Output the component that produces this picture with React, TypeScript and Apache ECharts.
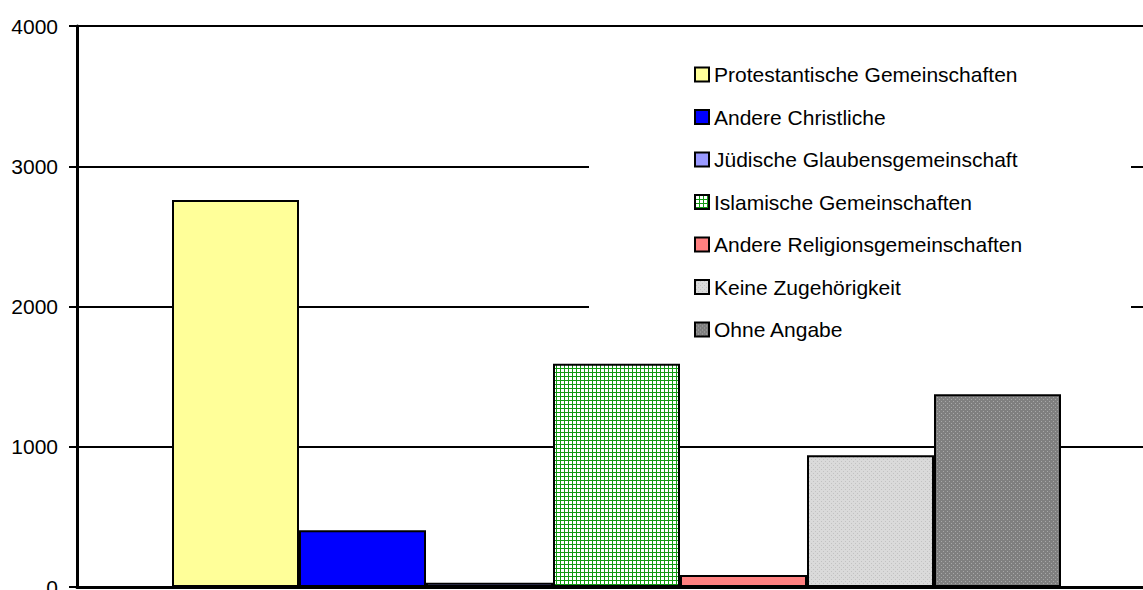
import React, { useEffect, useRef } from "react";
import * as echarts from "echarts";

const categories = [""];
const seriesNames = [
  "Protestantische Gemeinschaften",
  "Andere Christliche",
  "Jüdische Glaubensgemeinschaft",
  "Islamische Gemeinschaften",
  "Andere Religionsgemeinschaften",
  "Keine Zugehörigkeit",
  "Ohne Angabe",
];
const seriesValues = [2760, 405, 30, 1592, 85, 940, 1374];
const yTicks = [0, 1000, 2000, 3000, 4000];

function makeTile(size: number, base: string, fg: string, cells: number[][]) {
  const c = document.createElement("canvas");
  c.width = size;
  c.height = size;
  const ctx = c.getContext("2d")!;
  ctx.fillStyle = base;
  ctx.fillRect(0, 0, size, size);
  ctx.fillStyle = fg;
  cells.forEach(([x, y, w, h]) => ctx.fillRect(x, y, w, h));
  return { image: c, repeat: "repeat", imageWidth: size, imageHeight: size } as any;
}

export default function App() {
  const ref = useRef<HTMLDivElement>(null);
  useEffect(() => {
    if (!ref.current) return;
    const chart = echarts.init(ref.current, null, { renderer: "svg" });
    const greenGrid = makeTile(4, "#ffffff", "#119911", [
      [0, 0, 4, 1],
      [0, 0, 1, 4],
    ]);
    const lightGray = makeTile(4, "#dadada", "#c2c2c2", [
      [1, 1, 1, 1],
      [3, 3, 1, 1],
    ]);
    const darkGray = makeTile(4, "#7f7f7f", "#a8a8a8", [
      [1, 1, 1, 1],
      [3, 3, 1, 1],
    ]);
    const fills: any[] = ["#ffff99", "#0000ff", "#9999ff", greenGrid, "#ff8080", lightGray, darkGray];
    const font = 'Arial, "Liberation Sans", sans-serif';
    chart.setOption({
      animation: false,
      backgroundColor: "#ffffff",
      grid: {
        left: 77,
        right: -13,
        top: 26,
        bottom: 3,
        containLabel: false,
        outerBoundsMode: "none",
      },
      xAxis: {
        type: "category",
        data: categories,
        axisLine: { show: true, lineStyle: { color: "#000", width: 3 } },
        axisTick: { show: false },
        axisLabel: { show: false },
        splitLine: { show: false },
      },
      yAxis: {
        type: "value",
        min: yTicks[0],
        max: yTicks[yTicks.length - 1],
        interval: 1000,
        axisLine: { show: true, lineStyle: { color: "#000", width: 3 } },
        axisTick: { show: true, length: 8, lineStyle: { color: "#000", width: 2 } },
        axisLabel: {
          margin: 19,
          color: "#000",
          fontSize: 21,
          fontFamily: font,
          formatter: (v: number) => String(v),
        },
        splitLine: { show: true, lineStyle: { color: "#000", width: 2 } },
      },
      legend: {
        show: true,
        orient: "vertical",
        left: 694,
        top: 64,
        padding: 0,
        z: 10,
        icon: "rect",
        itemWidth: 14,
        itemHeight: 14,
        itemGap: 21.5,
        textStyle: { color: "#000", fontSize: 21, fontFamily: font, lineHeight: 21 },
        itemStyle: { borderColor: "#000", borderWidth: 2 },
        data: seriesNames,
      },
      graphic: [
        {
          type: "rect",
          z: 3,
          shape: { x: 589, y: 40, width: 542, height: 312 },
          style: { fill: "#ffffff" },
          silent: true,
        },
      ],
      series: seriesNames.map((name, i) => ({
        name,
        type: "bar",
        data: [seriesValues[i]],
        barWidth: 127,
        barGap: "0%",
        itemStyle: { color: fills[i], borderColor: "#000", borderWidth: 2 },
      })),
    });
    return () => chart.dispose();
  }, []);
  return (
    <div
      ref={ref}
      style={{ position: "absolute", left: 0, top: 0, width: 1143, height: 590 }}
    />
  );
}
